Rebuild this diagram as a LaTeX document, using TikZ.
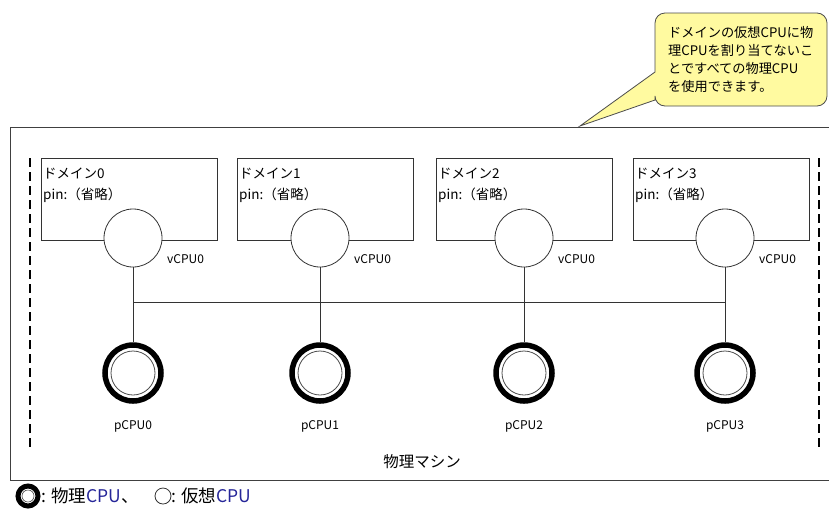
\documentclass[tikz,border=0pt]{standalone}
\usepackage{fontspec}
\setmainfont{Noto Sans CJK JP}
\begin{document}
\begin{tikzpicture}[x=1pt,y=-1pt,
  frame/.style={draw=black!75, line width=0.9pt},
  dombox/.style={draw=black!80, line width=0.8pt, fill=white},
  vcpu/.style={circle, draw=black!80, line width=0.8pt, fill=white, minimum size=58pt, inner sep=0pt},
  pcpu/.style={circle, draw=black, line width=5.5pt, fill=white, minimum size=56pt, inner sep=0pt},
  pinner/.style={circle, draw=black!70, line width=0.8pt, minimum size=44pt, inner sep=0pt},
  conn/.style={draw=black!80, line width=0.8pt},
  dashline/.style={draw=black, line width=2pt, dash pattern=on 9pt off 5pt},
  lbl/.style={font=\fontsize{13.5}{15}\selectfont, inner sep=0pt, anchor=west},
  small/.style={font=\fontsize{12}{14}\selectfont, inner sep=0pt},
  callout/.style={draw=black!70, line width=0.8pt, fill={rgb,255:red,255;green,250;blue,160}}
]
\useasboundingbox (0,0) rectangle (829,512);
\clip (0,0) rectangle (829,512);
\fill[white] (0,0) rectangle (829,512);

% outer frame
\coordinate (fa) at (10,127);
\coordinate (fb) at (840,480);
\draw[frame] (fa) rectangle (fb);

% dashed lines
\coordinate (dl1) at (30,158);
\coordinate (dl2) at (30,448);
\coordinate (dr1) at (819,158);
\coordinate (dr2) at (819,448);
\draw[dashline] (dl1) -- (dl2);
\draw[dashline] (dr1) -- (dr2);

% domain boxes
\foreach \i/\bx/\cx in {0/41/133, 1/237/320, 2/436/524, 3/633/725}{
  \coordinate (b\i a) at (\bx,158);
  \coordinate (b\i b) at (\bx+176,240);
  \draw[dombox] (b\i a) rectangle (b\i b);
  \node[lbl] (dn\i) at (\bx+2,173) {ドメイン\i};
  \node[lbl] (pn\i) at (\bx+2,195) {pin:（省略）};
}

% bus
\coordinate (bus0) at (133,302);
\coordinate (bus3) at (725,302);
\draw[conn] (bus0) -- (bus3);

\foreach \i/\cx in {0/133, 1/320, 2/524, 3/725}{
  \coordinate (bus\i x) at (\cx,302);
  \node[pcpu] (p\i) at (\cx,373) {};
  \node[pinner] at (p\i) {};
  \node[vcpu] (v\i) at (\cx,238) {};
  \draw[conn] (v\i.south) -- (bus\i x);
  \draw[conn] (bus\i x) -- (p\i.north);
  \node[small, anchor=west] (vl\i) at (\cx+34,259) {vCPU0};
  \node[small] (pl\i) at (\cx,426) {pCPU\i};
}

\node[font=\fontsize{15.5}{17}\selectfont, inner sep=0pt] (machine) at (422,462) {物理マシン};

% callout
\draw[callout] (580,126) -- (655,72) [rounded corners=10pt] -- (655,13) -- (827,13) -- (827,106) -- (655,106) [sharp corners] -- (655,100) -- cycle;
\node[font=\fontsize{13.2}{18}\selectfont, align=left, anchor=north west, inner sep=0pt] (note) at (668,26) {ドメインの仮想CPUに物\\理CPUを割り当てないこ\\とですべての物理CPU\\を使用できます。};

% legend
\node[circle, draw=black, line width=5pt, minimum size=20pt, inner sep=0pt] (lg1) at (28,496) {};
\node[circle, draw=black!70, line width=0.6pt, minimum size=12pt, inner sep=0pt] at (lg1) {};
\node[font=\fontsize{17.5}{19}\selectfont, inner sep=0pt, anchor=west] (lt1) at (41,496) {: 物理\textcolor[rgb]{0.15,0.15,0.6}{CPU}、};
\node[circle, draw=black!80, line width=0.8pt, minimum size=16pt, inner sep=0pt] (lg2) at (163,496) {};
\node[font=\fontsize{17.5}{19}\selectfont, inner sep=0pt, anchor=west] (lt2) at (171,496) {: 仮想\textcolor[rgb]{0.15,0.15,0.6}{CPU}};
\end{tikzpicture}
\end{document}
